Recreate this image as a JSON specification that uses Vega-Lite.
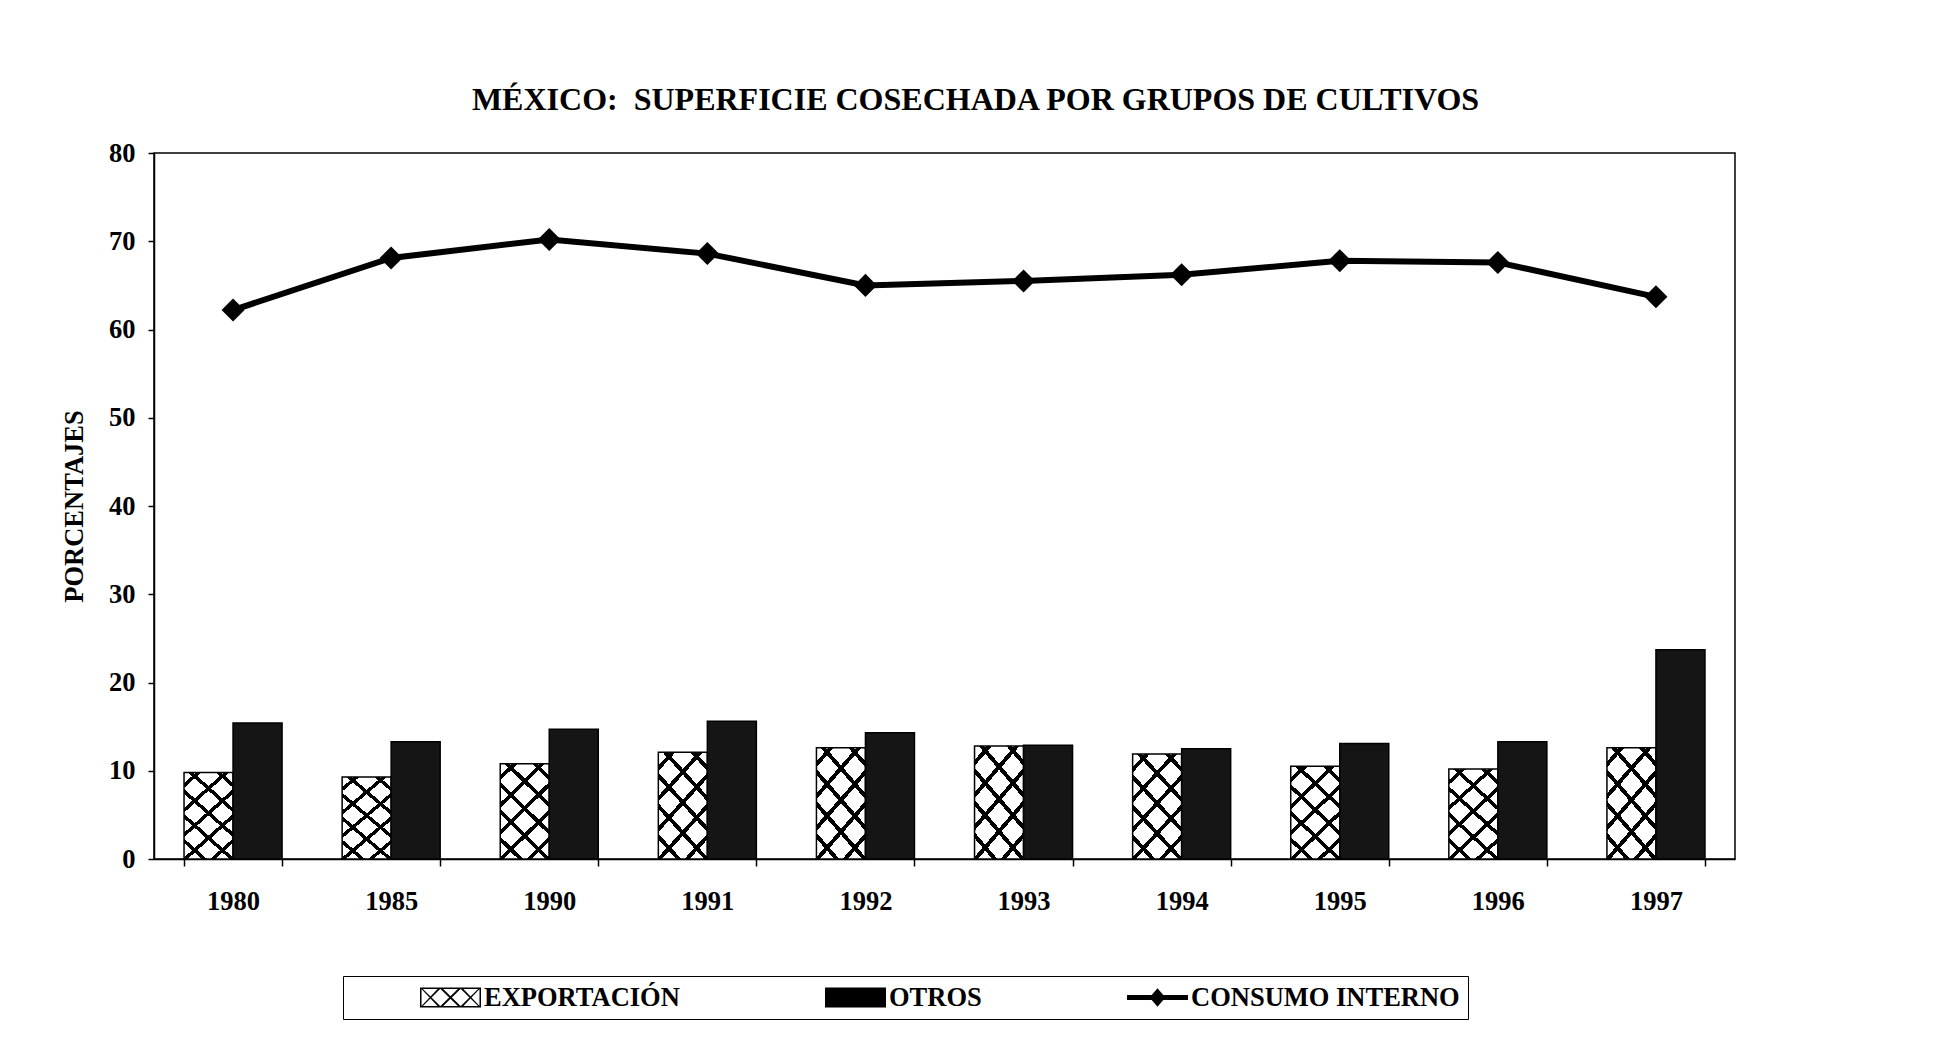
{
  "$schema": "https://vega.github.io/schema/vega-lite/v6.json",
  "width": 1581,
  "height": 706,
  "autosize": {"type": "none"},
  "padding": {"left": 154, "top": 153, "right": 205, "bottom": 190},
  "background": "white",
  "title": {
    "text": "MÉXICO:\u00a0 SUPERFICIE COSECHADA POR GRUPOS DE CULTIVOS",
    "font": "Liberation Serif",
    "fontSize": 32,
    "fontWeight": "bold",
    "color": "black",
    "anchor": "middle",
    "baseline": "alphabetic",
    "offset": -2,
    "dx": 31
  },
  "data": {
    "values": [
      {"year": "1980", "serie": "EXPORTACIÓN", "value": 9.8},
      {"year": "1980", "serie": "OTROS", "value": 15.4},
      {"year": "1980", "serie": "CONSUMO INTERNO", "value": 62.2},
      {"year": "1985", "serie": "EXPORTACIÓN", "value": 9.3},
      {"year": "1985", "serie": "OTROS", "value": 13.3},
      {"year": "1985", "serie": "CONSUMO INTERNO", "value": 68.1},
      {"year": "1990", "serie": "EXPORTACIÓN", "value": 10.8},
      {"year": "1990", "serie": "OTROS", "value": 14.7},
      {"year": "1990", "serie": "CONSUMO INTERNO", "value": 70.2},
      {"year": "1991", "serie": "EXPORTACIÓN", "value": 12.1},
      {"year": "1991", "serie": "OTROS", "value": 15.6},
      {"year": "1991", "serie": "CONSUMO INTERNO", "value": 68.6},
      {"year": "1992", "serie": "EXPORTACIÓN", "value": 12.6},
      {"year": "1992", "serie": "OTROS", "value": 14.3},
      {"year": "1992", "serie": "CONSUMO INTERNO", "value": 65.0},
      {"year": "1993", "serie": "EXPORTACIÓN", "value": 12.8},
      {"year": "1993", "serie": "OTROS", "value": 12.9},
      {"year": "1993", "serie": "CONSUMO INTERNO", "value": 65.5},
      {"year": "1994", "serie": "EXPORTACIÓN", "value": 11.9},
      {"year": "1994", "serie": "OTROS", "value": 12.5},
      {"year": "1994", "serie": "CONSUMO INTERNO", "value": 66.2},
      {"year": "1995", "serie": "EXPORTACIÓN", "value": 10.5},
      {"year": "1995", "serie": "OTROS", "value": 13.1},
      {"year": "1995", "serie": "CONSUMO INTERNO", "value": 67.8},
      {"year": "1996", "serie": "EXPORTACIÓN", "value": 10.2},
      {"year": "1996", "serie": "OTROS", "value": 13.3},
      {"year": "1996", "serie": "CONSUMO INTERNO", "value": 67.6},
      {"year": "1997", "serie": "EXPORTACIÓN", "value": 12.6},
      {"year": "1997", "serie": "OTROS", "value": 23.7},
      {"year": "1997", "serie": "CONSUMO INTERNO", "value": 63.7}
    ]
  },
  "config": {
    "view": {"stroke": "black", "strokeWidth": 1.5},
    "axis": {
      "domainColor": "black",
      "domainWidth": 1.5,
      "tickColor": "black",
      "tickWidth": 1.5,
      "labelFont": "Liberation Serif",
      "labelFontWeight": "bold",
      "labelFontSize": 26.5,
      "labelColor": "black",
      "titleFont": "Liberation Serif",
      "titleFontWeight": "bold",
      "titleFontSize": 26.5,
      "titleColor": "black",
      "grid": false
    }
  },
  "encoding": {
    "x": {
      "field": "year",
      "type": "nominal",
      "sort": null,
      "scale": {"paddingInner": 0.38, "paddingOuter": 0.19},
      "axis": {"title": null, "labelAngle": 0, "tickBand": "extent", "tickSize": 7, "labelPadding": 22}
    },
    "y": {
      "field": "value",
      "type": "quantitative",
      "scale": {"domain": [0, 80]},
      "axis": {"title": "PORCENTAJES", "values": [0, 10, 20, 30, 40, 50, 60, 70, 80], "tickSize": 6, "labelPadding": 13, "titlePadding": 20}
    }
  },
  "layer": [
    {
      "transform": [{"filter": "datum.serie !== 'CONSUMO INTERNO'"}],
      "mark": {"type": "bar", "stroke": "black", "strokeWidth": 1.5},
      "encoding": {
        "xOffset": {"field": "serie", "type": "nominal", "scale": {"domain": ["EXPORTACIÓN", "OTROS"]}},
        "fill": {
          "field": "serie",
          "type": "nominal",
          "scale": {"domain": ["EXPORTACIÓN", "OTROS"], "range": ["white", "#151515"]},
          "legend": null
        }
      }
    },
    {
      "transform": [{"filter": "datum.serie === 'EXPORTACIÓN'"}],
      "mark": {
        "type": "bar",
        "strokeWidth": 0,
        "fill": {
          "gradient": "linear", "x1": 0, "y1": 0, "x2": 0.606, "y2": 1.199,
          "stops": [
            {"offset": 0, "color": "rgba(0,0,0,0)"},
            {"offset": 0.082, "color": "rgba(0,0,0,0)"}, {"offset": 0.082, "color": "black"}, {"offset": 0.118, "color": "black"}, {"offset": 0.118, "color": "rgba(0,0,0,0)"},
            {"offset": 0.272, "color": "rgba(0,0,0,0)"}, {"offset": 0.272, "color": "black"}, {"offset": 0.308, "color": "black"}, {"offset": 0.308, "color": "rgba(0,0,0,0)"},
            {"offset": 0.462, "color": "rgba(0,0,0,0)"}, {"offset": 0.462, "color": "black"}, {"offset": 0.498, "color": "black"}, {"offset": 0.498, "color": "rgba(0,0,0,0)"},
            {"offset": 0.652, "color": "rgba(0,0,0,0)"}, {"offset": 0.652, "color": "black"}, {"offset": 0.688, "color": "black"}, {"offset": 0.688, "color": "rgba(0,0,0,0)"},
            {"offset": 0.842, "color": "rgba(0,0,0,0)"}, {"offset": 0.842, "color": "black"}, {"offset": 0.878, "color": "black"}, {"offset": 0.878, "color": "rgba(0,0,0,0)"},
            {"offset": 1, "color": "rgba(0,0,0,0)"}
          ]
        }
      },
      "encoding": {
        "xOffset": {"field": "serie", "type": "nominal", "scale": {"domain": ["EXPORTACIÓN", "OTROS"]}}
      }
    },
    {
      "transform": [{"filter": "datum.serie === 'EXPORTACIÓN'"}],
      "mark": {
        "type": "bar",
        "strokeWidth": 0,
        "fill": {
          "gradient": "linear", "x1": 1, "y1": 0, "x2": 0.394, "y2": 1.199,
          "stops": [
            {"offset": 0, "color": "rgba(0,0,0,0)"},
            {"offset": 0.082, "color": "rgba(0,0,0,0)"}, {"offset": 0.082, "color": "black"}, {"offset": 0.118, "color": "black"}, {"offset": 0.118, "color": "rgba(0,0,0,0)"},
            {"offset": 0.272, "color": "rgba(0,0,0,0)"}, {"offset": 0.272, "color": "black"}, {"offset": 0.308, "color": "black"}, {"offset": 0.308, "color": "rgba(0,0,0,0)"},
            {"offset": 0.462, "color": "rgba(0,0,0,0)"}, {"offset": 0.462, "color": "black"}, {"offset": 0.498, "color": "black"}, {"offset": 0.498, "color": "rgba(0,0,0,0)"},
            {"offset": 0.652, "color": "rgba(0,0,0,0)"}, {"offset": 0.652, "color": "black"}, {"offset": 0.688, "color": "black"}, {"offset": 0.688, "color": "rgba(0,0,0,0)"},
            {"offset": 0.842, "color": "rgba(0,0,0,0)"}, {"offset": 0.842, "color": "black"}, {"offset": 0.878, "color": "black"}, {"offset": 0.878, "color": "rgba(0,0,0,0)"},
            {"offset": 1, "color": "rgba(0,0,0,0)"}
          ]
        }
      },
      "encoding": {
        "xOffset": {"field": "serie", "type": "nominal", "scale": {"domain": ["EXPORTACIÓN", "OTROS"]}}
      }
    },
    {
      "transform": [{"filter": "datum.serie === 'CONSUMO INTERNO'"}],
      "mark": {"type": "line", "stroke": "black", "strokeWidth": 6},
      "encoding": {}
    },
    {
      "transform": [{"filter": "datum.serie === 'CONSUMO INTERNO'"}],
      "mark": {"type": "point", "shape": "diamond", "filled": true, "fill": "black", "opacity": 1, "size": 530},
      "encoding": {}
    },
    {
      "mark": {"type": "point", "filled": true, "fill": "black", "opacity": 0, "size": 10},
      "encoding": {
        "shape": {
          "field": "serie",
          "type": "nominal",
          "scale": {
            "domain": ["EXPORTACIÓN", "OTROS", "CONSUMO INTERNO"],
            "range": [
              "M-1,-0.33H1V0.33H-1Z M-0.95,-0.28V0.28H0.95V-0.28Z M-0.378,-0.33L-0.288,-0.33L-0.955,0.33L-1,0.33Z M0.289,-0.33L0.379,-0.33L-0.288,0.33L-0.378,0.33Z M0.955,-0.33L1,-0.33L0.378,0.33L0.288,0.33Z M-1,-0.33L-0.955,-0.33L-0.288,0.33L-0.378,0.33Z M-0.378,-0.33L-0.288,-0.33L0.379,0.33L0.289,0.33Z M0.288,-0.33L0.378,-0.33L1,0.33L0.955,0.33Z",
              "M-1,-0.33H1V0.33H-1Z",
              "M-1,-0.08H-0.19L0,-0.3L0.19,-0.08H1V0.08H0.19L0,0.3L-0.19,0.08H-1Z"
            ]
          },
          "legend": {
            "title": null,
            "orient": "none",
            "legendX": 189,
            "legendY": 823,
            "direction": "horizontal",
            "strokeColor": "black",
            "padding": 8,
            "labelFont": "Liberation Serif",
            "labelFontWeight": "bold",
            "labelFontSize": 26.5,
            "labelColor": "black",
            "labelLimit": 600,
            "symbolSize": 3721,
            "symbolOpacity": 1,
            "symbolFillColor": "black",
            "symbolStrokeWidth": 0,
            "columnPadding": 76,
            "symbolOffset": 69,
            "labelOffset": 3,
            "clipHeight": 27,
            "encode": {
              "legend": {"update": {"strokeWidth": {"value": 2}}},
              "symbols": {
                "update": {
                  "fill": [
                    {"test": "datum.label === 'OTROS'", "value": "#151515"},
                    {"value": "black"}
                  ],
                  "opacity": {"value": 1},
                  "strokeWidth": {"value": 0}
                }
              }
            }
          }
        }
      }
    }
  ]
}
